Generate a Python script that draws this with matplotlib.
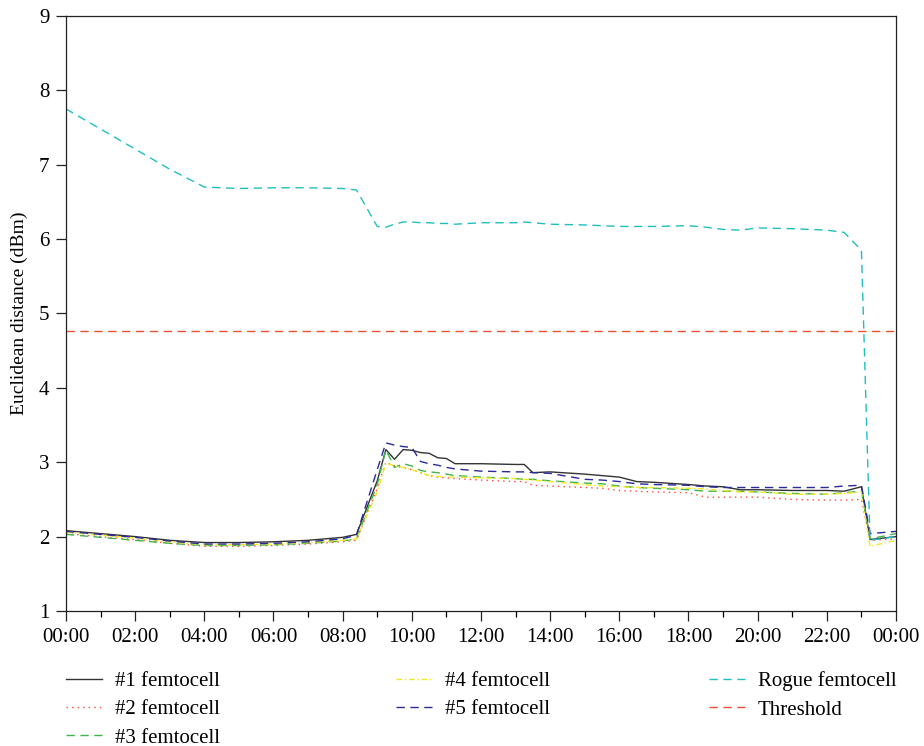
import matplotlib
matplotlib.use("Agg")
import matplotlib.pyplot as plt
from matplotlib.ticker import MultipleLocator, FuncFormatter

plt.rcParams['font.family'] = ['Liberation Serif', 'DejaVu Serif']

# time of day in hours
hours = [0, 1, 2, 3, 4, 5, 6, 7, 8, 8.4, 9.0, 9.25, 9.5, 9.75, 10, 10.25, 10.5, 10.75,
         11, 11.25, 12, 13, 13.25, 13.5, 14, 15, 15.5, 16, 16.5, 17, 18, 18.5, 19,
         19.5, 20, 21, 22, 22.5, 23, 23.25, 24]

femto1 = [2.08, 2.04, 2.00, 1.95, 1.92, 1.92, 1.93, 1.95, 1.99, 2.03, 2.75, 3.17, 3.04,
          3.17, 3.16, 3.13, 3.12, 3.06, 3.05, 2.98, 2.98, 2.97, 2.97, 2.86, 2.87, 2.84,
          2.82, 2.80, 2.74, 2.73, 2.70, 2.68, 2.67, 2.63, 2.63, 2.62, 2.62, 2.61, 2.67,
          1.96, 2.00]
femto2 = [2.04, 2.00, 1.96, 1.91, 1.87, 1.87, 1.88, 1.90, 1.93, 1.95, 2.65, 3.00, 2.95,
          2.93, 2.90, 2.86, 2.82, 2.80, 2.79, 2.78, 2.76, 2.74, 2.74, 2.69, 2.68, 2.66,
          2.65, 2.62, 2.61, 2.60, 2.59, 2.53, 2.53, 2.53, 2.53, 2.50, 2.49, 2.49, 2.50,
          1.95, 1.97]
femto3 = [2.03, 1.99, 1.95, 1.91, 1.88, 1.88, 1.89, 1.91, 1.94, 1.97, 2.70, 3.17, 2.93,
          2.98, 2.95, 2.89, 2.87, 2.86, 2.84, 2.82, 2.80, 2.78, 2.77, 2.77, 2.75, 2.72,
          2.71, 2.68, 2.66, 2.65, 2.63, 2.61, 2.61, 2.61, 2.60, 2.58, 2.57, 2.59, 2.61,
          1.97, 2.04]
femto4 = [2.06, 2.02, 1.98, 1.93, 1.89, 1.89, 1.90, 1.92, 1.95, 1.97, 2.60, 2.99, 2.95,
          2.93, 2.90, 2.86, 2.82, 2.81, 2.80, 2.80, 2.79, 2.78, 2.77, 2.76, 2.74, 2.70,
          2.68, 2.67, 2.66, 2.66, 2.65, 2.64, 2.62, 2.60, 2.60, 2.57, 2.57, 2.58, 2.60,
          1.87, 1.95]
femto5 = [2.07, 2.03, 1.99, 1.94, 1.90, 1.90, 1.91, 1.93, 1.97, 2.02, 2.90, 3.26, 3.23,
          3.21, 3.20, 3.01, 2.98, 2.96, 2.93, 2.91, 2.88, 2.87, 2.87, 2.86, 2.85, 2.77,
          2.76, 2.74, 2.71, 2.70, 2.69, 2.67, 2.66, 2.66, 2.66, 2.66, 2.66, 2.68, 2.69,
          2.04, 2.07]
rogue = [7.75, 7.48, 7.21, 6.94, 6.70, 6.68, 6.69, 6.69, 6.68, 6.66, 6.17, 6.16, 6.20,
         6.23, 6.23, 6.22, 6.22, 6.21, 6.21, 6.20, 6.22, 6.22, 6.23, 6.22, 6.20, 6.19,
         6.18, 6.17, 6.17, 6.17, 6.18, 6.16, 6.13, 6.12, 6.15, 6.14, 6.12, 6.09, 5.85,
         1.95, 2.00]
threshold = 4.76

fig = plt.figure(figsize=(9.24, 7.46), dpi=100)
ax = fig.add_axes([0.0714, 0.181, 0.8983, 0.7976])

lw = 1.0
l1, = ax.plot(hours, femto1, color='#333333', lw=lw, label='#1 femtocell')
l2, = ax.plot(hours, femto2, color='#ff4a3d', lw=lw, ls=(0, (1, 3)), label='#2 femtocell')
l3, = ax.plot(hours, femto3, color='#3fb54a', lw=lw, ls=(0, (6, 4)), label='#3 femtocell')
l4, = ax.plot(hours, femto4, color='#f2ea1e', lw=lw, ls=(0, (4, 2, 1, 2)), label='#4 femtocell')
l5, = ax.plot(hours, femto5, color='#2a2a9a', lw=lw, ls=(0, (6, 4)), label='#5 femtocell')
l6, = ax.plot(hours, rogue, color='#1fbfbf', lw=lw, ls=(0, (6, 4)), label='Rogue femtocell')
l7, = ax.plot([hours[0], hours[-1]], [threshold, threshold], color='#f0502e', lw=lw,
              ls=(0, (6, 4)), label='Threshold')

ax.set_xlim(0, 24)
ax.set_ylim(1, 9)
ax.xaxis.set_major_locator(MultipleLocator(2))
ax.xaxis.set_minor_locator(MultipleLocator(1))
ax.xaxis.set_major_formatter(FuncFormatter(lambda v, p: '%02d:00' % (int(round(v)) % 24)))
ax.yaxis.set_major_locator(MultipleLocator(1))
ax.tick_params(axis='both', direction='out', labelsize=15, width=0.9, color='#222222')
ax.tick_params(axis='x', which='major', length=7, pad=5)
ax.tick_params(axis='x', which='minor', length=4, width=0.9)
ax.tick_params(axis='y', length=7, pad=5)
for s in ax.spines.values():
    s.set_linewidth(0.9)
    s.set_color('#222222')

ax.set_ylabel('Euclidean distance (dBm)', fontsize=14, labelpad=8)

# legend in three separate groups below the plot
groups = [([l1, l2, l3], 0.0714), ([l4, l5], 0.4286), ([l6, l7], 0.767)]
for handles, xpos in groups:
    leg = fig.legend(handles=handles, loc='upper left', bbox_to_anchor=(xpos, 0.1),
                     frameon=False, fontsize=15, handlelength=1.75, handletextpad=0.6,
                     labelspacing=0.42, borderaxespad=0, borderpad=0)

fig.savefig('out.png', dpi=100)
